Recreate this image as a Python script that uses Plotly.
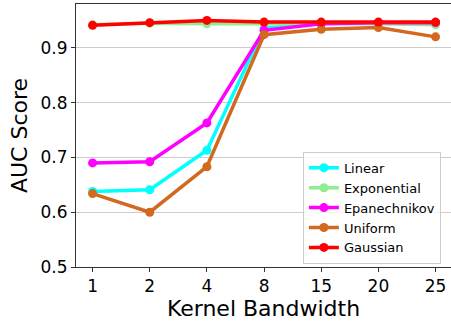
import plotly.graph_objects as go

bandwidths = ["1", "2", "4", "8", "15", "20", "25"]
linear = [0.638, 0.641, 0.713, 0.936, 0.945, 0.946, 0.946]
exponential = [0.942, 0.945, 0.944, 0.944, 0.944, 0.944, 0.942]
epanechnikov = [0.690, 0.692, 0.763, 0.932, 0.944, 0.946, 0.946]
uniform = [0.634, 0.600, 0.683, 0.924, 0.934, 0.937, 0.920]
gaussian = [0.941, 0.946, 0.950, 0.947, 0.947, 0.947, 0.947]

series = [
    ("Linear", linear, "#00FFFF"),
    ("Exponential", exponential, "#90EE90"),
    ("Epanechnikov", epanechnikov, "#FF00FF"),
    ("Uniform", uniform, "#D2691E"),
    ("Gaussian", gaussian, "#FF0000"),
]

fig = go.Figure()
for name, vals, col in series:
    fig.add_trace(go.Scatter(
        x=bandwidths, y=vals, name=name, mode="lines+markers",
        line=dict(color=col, width=3.5),
        marker=dict(color=col, size=9),
    ))

font = "DejaVu Sans, sans-serif"
fig.update_layout(
    width=451, height=324,
    margin=dict(l=76, r=0, t=4, b=57),
    plot_bgcolor="white", paper_bgcolor="white",
    font=dict(family=font, color="black"),
    legend=dict(
        x=0.605, y=0.012, xanchor="left", yanchor="bottom",
        bgcolor="rgba(255,255,255,0.8)", bordercolor="#cccccc", borderwidth=1,
        font=dict(size=13, family=font), tracegroupgap=0,
    ),
    showlegend=True,
)
fig.update_xaxes(
    type="category", range=[-0.29, 6.27],
    showline=True, linecolor="#333333", linewidth=1, mirror=True,
    ticks="outside", ticklen=4, tickcolor="#333333",
    tickfont=dict(size=17), showgrid=False,
    title=dict(text="Kernel Bandwidth", font=dict(size=22), standoff=3),
)
fig.update_yaxes(
    range=[0.5, 0.98], tickvals=[0.5, 0.6, 0.7, 0.8, 0.9],
    ticktext=["0.5", "0.6", "0.7", "0.8", "0.9"],
    showline=True, linecolor="#333333", linewidth=1, mirror=True,
    ticks="outside", ticklen=4, tickcolor="#333333",
    tickfont=dict(size=17), showgrid=True, gridcolor="#cccccc", gridwidth=1,
    zeroline=False,
    title=dict(text="AUC Score", font=dict(size=22), standoff=6),
)
fig.write_html("out.html")
